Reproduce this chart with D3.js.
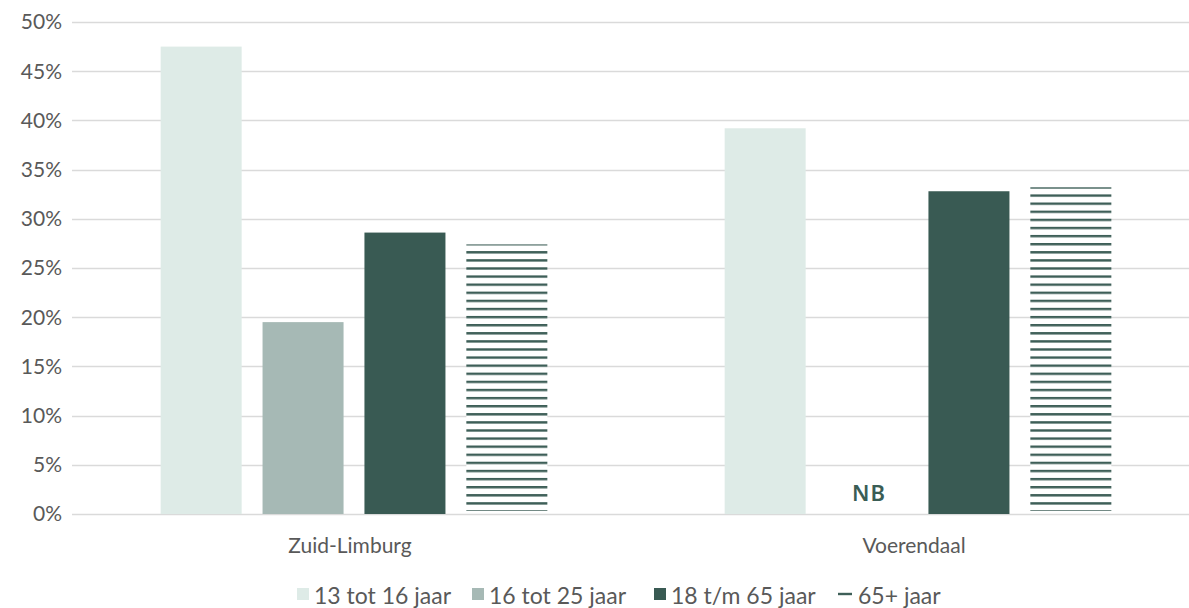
<!DOCTYPE html>
<html lang="nl">
<head>
<meta charset="UTF-8">
<title>Leeftijdsgroepen</title>
<script src="https://cdn.jsdelivr.net/npm/d3@7"></script>
<style>
    body { margin: 0; background: #fff; font-family: Lato, "Liberation Sans", sans-serif; }
    svg { display: block; }
</style>
</head>
<body>
<div id="chart"></div>
<script>
    const regions = ["Zuid-Limburg", "Voerendaal"];
    const groups = ["13 tot 16 jaar", "16 tot 25 jaar", "18 t/m 65 jaar", "65+ jaar"];
    const zuidLimburg = [47.5, 19.5, 28.6, 27.4];
    const voerendaal = [39.2, null, 32.8, 33.2];   // null = niet bekend (NB)
    const yTicks = [0, 5, 10, 15, 20, 25, 30, 35, 40, 45, 50];

    const colors = ["#deebe7", "#a6b9b5", "#395a53", "url(#hatch)"];
    const values = [zuidLimburg, voerendaal];

    const W = 1189, H = 608;
    const plotLeft = 72, plotTop = 22, plotBottom = 514;

    const svg = d3.select("#chart").append("svg")
        .attr("width", W).attr("height", H);

    // horizontal stripes for the 65+ bars
    const pat = svg.append("defs").append("pattern")
        .attr("id", "hatch")
        .attr("patternUnits", "userSpaceOnUse")
        .attr("width", 10).attr("height", 8.1);
    pat.append("rect").attr("width", 10).attr("height", 8.1).attr("fill", "#fff");
    pat.append("rect").attr("y", 0).attr("width", 10).attr("height", 2.4).attr("fill", "#3e5f58");

    const y = d3.scaleLinear().domain([0, 50]).range([plotBottom, plotTop]);
    const x0 = d3.scaleBand().domain(regions).range([plotLeft, plotLeft + 2 * 564]);
    const x1 = d3.scaleBand().domain(groups).range([0, x0.bandwidth()])
        .paddingInner(0.205).paddingOuter(0.87);

    // gridlines
    svg.append("g").selectAll("line").data(yTicks).join("line")
        .attr("x1", plotLeft).attr("x2", W)
        .attr("y1", d => Math.round(y(d)) + 0.5).attr("y2", d => Math.round(y(d)) + 0.5)
        .attr("stroke", "#dadada").attr("stroke-width", 1.5);

    // y labels
    svg.append("g").selectAll("text").data(yTicks).join("text")
        .attr("x", 62).attr("y", d => y(d))
        .attr("dy", "0.35em").attr("text-anchor", "end")
        .attr("font-size", 21).attr("fill", "#595959")
        .text(d => d + "%");

    // bars
    const rows = [];
    regions.forEach((r, i) => groups.forEach((g, j) => rows.push({ region: r, group: g, idx: j, v: values[i][j] })));

    svg.append("g").selectAll("rect")
        .data(rows.filter(d => d.v != null))
        .join("rect")
        .attr("x", d => x0(d.region) + x1(d.group))
        .attr("y", d => y(d.v))
        .attr("width", x1.bandwidth())
        .attr("height", d => y(0) - y(d.v) - (d.idx === 3 ? 3 : 0))
        .attr("fill", d => colors[d.idx]);

    // NB marker
    svg.append("g").selectAll("text")
        .data(rows.filter(d => d.v == null))
        .join("text")
        .attr("x", d => x0(d.region) + x1(d.group) + x1.bandwidth() / 2 + 2)
        .attr("y", 501)
        .attr("text-anchor", "middle")
        .attr("font-family", "'Noto Sans', sans-serif")
        .attr("font-weight", 600)
        .attr("letter-spacing", 1)
        .attr("font-size", 22).attr("fill", "#3a5d55")
        .text("NB");

    // category labels
    svg.append("g").selectAll("text").data(regions).join("text")
        .attr("x", d => x0(d) + x0.bandwidth() / 2 - 4)
        .attr("y", 553)
        .attr("text-anchor", "middle")
        .attr("font-size", 21).attr("fill", "#595959")
        .text(d => d);

    // legend
    const legX = [297, 472, 654, 838];
    const leg = svg.append("g").selectAll("g").data(groups).join("g")
        .attr("transform", (d, i) => `translate(${legX[i]},594)`);
    leg.filter((d, i) => i < 3).append("rect")
        .attr("x", 0).attr("y", -6).attr("width", 12).attr("height", 12)
        .attr("fill", (d, i) => colors[i]);
    leg.filter((d, i) => i === 3).append("rect")
        .attr("x", 0).attr("y", -1.2).attr("width", 14).attr("height", 2.4)
        .attr("fill", "#3e5f58");
    leg.append("text")
        .attr("x", (d, i) => i === 3 ? 20 : 17).attr("y", 10)
        .attr("font-size", 23).attr("fill", "#595959")
        .text(d => d);
</script>
</body>
</html>
